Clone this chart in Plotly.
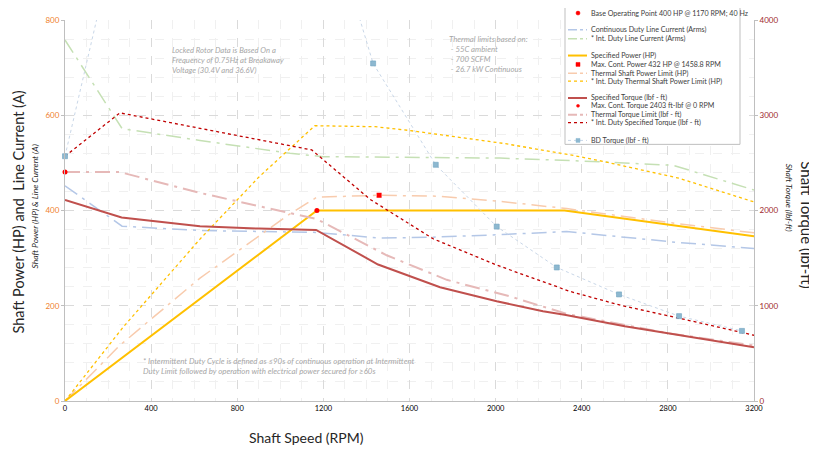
import plotly.graph_objects as go

# ---------------- data ----------------
rpm_spec_power = [0, 1170, 2320, 3200]
hp_spec_power = [0, 400, 400, 346]

rpm_thermal_power = [0, 255, 627, 1045, 1170, 1460, 1740, 2005, 2330, 2800, 3200]
hp_thermal_power = [0, 117, 258, 393, 428, 432, 430, 420, 404, 375, 353]

rpm_int_power = [0, 270, 627, 900, 1160, 1440, 1600, 2035, 2346, 2500, 2850, 3200]
hp_int_power = [0, 155, 340, 470, 578, 576, 568, 541, 517, 503, 468, 418]

rpm_spec_torque = [0, 263, 627, 900, 1166, 1454, 1742, 2005, 2220, 2320, 2600, 2900, 3200]
tq_spec_torque = [2110, 1927, 1834, 1810, 1796, 1433, 1195, 1047, 943, 905, 785, 675, 565]

rpm_thermal_torque = [0, 255, 627, 1045, 1169, 1494, 1773, 2067, 2330, 2800, 3200]
tq_thermal_torque = [2403, 2403, 2185, 1975, 1910, 1530, 1272, 1098, 915, 712, 582]

rpm_int_torque = [0, 255, 1146, 1417, 1710, 2005, 2346, 2580, 2900, 3200]
tq_int_torque = [2570, 3025, 2636, 2117, 1703, 1427, 1150, 1005, 845, 690]

rpm_cont_current = [0, 265, 627, 1045, 1169, 1463, 1710, 2005, 2330, 2820, 3200]
a_cont_current = [452, 367, 358, 356, 354, 342, 344, 349, 356, 334, 320]

rpm_int_current = [0, 265, 627, 1045, 1200, 2020, 2346, 2824, 3200]
a_int_current = [758, 572, 547, 520, 513, 510, 505, 495, 443]

rpm_bd_torque = [0, 290, 1145, 1431, 1722, 2005, 2284, 2573, 2852, 3144]
tq_bd_torque = [2570, 5400, 5700, 3544, 2480, 1831, 1402, 1119, 891, 736]

base_point_rpm = [1170]
base_point_hp = [400]
max_power_rpm = [1458.8]
max_power_hp = [432]
max_torque_rpm = [0]
max_torque_tq = [2403]

x_ticks = [0, 400, 800, 1200, 1600, 2000, 2400, 2800, 3200]
y_ticks = [0, 200, 400, 600, 800]
y2_ticks = [0, 1000, 2000, 3000, 4000]

# ---------------- styles ----------------
FONT = "Lato, 'Open Sans', sans-serif"
C_SPEC_P = "#FFC000"
C_THERM_P = "#F8CBAD"
C_INT_P = "#FFC000"
C_SPEC_T = "#C0504D"
C_THERM_T = "#E6B9B8"
C_INT_T = "#C00000"
C_CONT_A = "#B4C7E7"
C_INT_A = "#C5E0B4"
C_BD_LINE = "#C9D7E8"
C_BD_MK = "#8DB8D0"
C_RED = "#FF0000"

# page is offset by the default 8px body margin
OFF = 8
W, H = 809, 443
L, R, T, B = 57, 63, 7, 50
PW, PH = W - L - R, H - T - B


def px(x):  # page pixel -> paper
    return (x - OFF - L) / PW


def py(y):
    return (H - B - (y - OFF)) / PH


fig = go.Figure()


def line(x, y, color, width, dash, axis="y"):
    fig.add_trace(go.Scatter(x=x, y=y, mode="lines", yaxis=axis,
                             line=dict(color=color, width=width, dash=dash),
                             showlegend=False, hoverinfo="skip"))


line(rpm_cont_current, a_cont_current, C_CONT_A, 1.5, "longdashdot")
line(rpm_int_current, a_int_current, C_INT_A, 1.5, "longdashdot")
line(rpm_thermal_power, hp_thermal_power, C_THERM_P, 1.5, "longdashdot")
line(rpm_int_power, hp_int_power, C_INT_P, 1.3, "dot")
line(rpm_spec_power, hp_spec_power, C_SPEC_P, 2, "solid")
line(rpm_thermal_torque, tq_thermal_torque, C_THERM_T, 2, "longdashdot", "y2")
line(rpm_int_torque, tq_int_torque, C_INT_T, 1.3, "dot", "y2")
line(rpm_spec_torque, tq_spec_torque, C_SPEC_T, 2, "solid", "y2")

fig.add_trace(go.Scatter(x=rpm_bd_torque, y=tq_bd_torque, mode="lines+markers", yaxis="y2",
                         line=dict(color=C_BD_LINE, width=1, dash="dot"),
                         marker=dict(symbol="square", size=5, color=C_BD_MK,
                                     line=dict(color="#6FA3C0", width=0.6)),
                         cliponaxis=False, showlegend=False, hoverinfo="skip"))
fig.add_trace(go.Scatter(x=base_point_rpm, y=base_point_hp, mode="markers",
                         marker=dict(symbol="circle", size=5, color=C_RED),
                         cliponaxis=False, showlegend=False, hoverinfo="skip"))
fig.add_trace(go.Scatter(x=max_power_rpm, y=max_power_hp, mode="markers",
                         marker=dict(symbol="square", size=5, color=C_RED),
                         cliponaxis=False, showlegend=False, hoverinfo="skip"))
fig.add_trace(go.Scatter(x=max_torque_rpm, y=max_torque_tq, mode="markers", yaxis="y2",
                         marker=dict(symbol="circle", size=5, color=C_RED),
                         cliponaxis=False, showlegend=False, hoverinfo="skip"))

# ---------------- manual legend ----------------
shapes = []
annotations = []
shapes.append(dict(type="rect", xref="paper", yref="paper", x0=px(565), x1=px(740),
                   y0=py(0), y1=py(141), line=dict(color="#BFBFBF", width=1),
                   fillcolor="white", layer="above"))

legend_rows = [
    ("Base Operating Point 400 HP @ 1170 RPM; 40 Hz", 8, None, None, None, ("circle", C_RED, 4)),
    ("Continuous Duty Line Current (Arms)", 25, C_CONT_A, 1.5, "dashdot", None),
    ("* Int. Duty Line Current (Arms)", 34, C_INT_A, 1.5, "dashdot", None),
    ("Specified Power (HP)", 51, C_SPEC_P, 2, "solid", None),
    ("Max. Cont. Power 432 HP @ 1458.8 RPM", 60, None, None, None, ("rect", C_RED, 4)),
    ("Thermal Shaft Power Limit (HP)", 69, C_THERM_P, 1.5, "dashdot", None),
    ("* Int. Duty Thermal Shaft Power Limit (HP)", 77, C_INT_P, 1.2, "dot", None),
    ("Specified Torque (lbf - ft)", 94, C_SPEC_T, 2, "solid", None),
    ("Max. Cont. Torque 2403 ft-lbf @ 0 RPM", 102, None, None, None, ("circle", C_RED, 3)),
    ("Thermal Torque Limit (lbf - ft)", 111, C_THERM_T, 2, "dashdot", None),
    ("* Int. Duty Specified Torque (lbf - ft)", 119, C_INT_T, 1.2, "dot", None),
    ("BD Torque (lbf - ft)", 137, C_BD_LINE, 1, "dot", ("rect", C_BD_MK, 4)),
]
for text, yy, col, wid, dash, mk in legend_rows:
    if col is not None:
        shapes.append(dict(type="line", xref="paper", yref="paper",
                           x0=px(568), x1=px(587), y0=py(yy), y1=py(yy),
                           line=dict(color=col, width=wid, dash=dash), layer="above"))
    if mk is not None:
        kind, mcol, s = mk
        shapes.append(dict(type=kind, xref="paper", yref="paper",
                           x0=px(578 - s / 2), x1=px(578 + s / 2),
                           y0=py(yy - s / 2), y1=py(yy + s / 2),
                           fillcolor=mcol, line=dict(color=mcol, width=0.5), layer="above"))
    annotations.append(dict(text=text, xref="paper", yref="paper", x=px(589), y=py(yy),
                            xanchor="left", yanchor="middle", showarrow=False,
                            font=dict(family=FONT, size=7.1, color="#404040")))

# ---------------- notes & titles ----------------
NOTE = "#A6A6A6"
annotations += [
    dict(text="<i>Locked Rotor Data is Based On a<br>Frequency of 0.75Hz at Breakaway<br>Voltage (30.4V and 36.6V)</i>",
         xref="paper", yref="paper", x=px(170), y=py(38), xanchor="left", yanchor="top",
         align="left", showarrow=False, font=dict(family=FONT, size=7.7, color=NOTE)),
    dict(text="<i>Thermal limits based on:<br> - 55C ambient<br> - 700 SCFM<br> - 26.7 kW Continuous</i>",
         xref="paper", yref="paper", x=px(447), y=py(27), xanchor="left", yanchor="top",
         align="left", showarrow=False, font=dict(family=FONT, size=7.8, color=NOTE)),
    dict(text="<i>* Intermittent Duty Cycle is defined as ≤90s of continuous operation at Intermittent<br>Duty Limit followed by operation with electrical power secured for ≥60s</i>",
         xref="paper", yref="paper", x=px(141), y=py(353), xanchor="left", yanchor="top",
         align="left", showarrow=False, font=dict(family=FONT, size=7.9, color=NOTE)),
    dict(text="Shaft Power (HP) and  Line Current (A)", xref="paper", yref="paper",
         x=px(18), y=py(210), textangle=-90, showarrow=False, xanchor="center", yanchor="middle",
         font=dict(family=FONT, size=14.5, color="#262626")),
    dict(text="<i>Shaft Power (HP) & Line Current (A)</i>", xref="paper", yref="paper",
         x=px(35), y=py(204), textangle=-90, showarrow=False, xanchor="center", yanchor="middle",
         font=dict(family=FONT, size=8.5, color="#262626")),
    dict(text="Shaft Torque (lbf-ft)", xref="paper", yref="paper",
         x=px(807), y=py(222), textangle=90, showarrow=False, xanchor="center", yanchor="middle",
         font=dict(family=FONT, size=15, color="#262626")),
    dict(text="<i>Shaft Torque (lbf-ft)</i>", xref="paper", yref="paper",
         x=px(789), y=py(195), textangle=90, showarrow=False, xanchor="center", yanchor="middle",
         font=dict(family=FONT, size=8.5, color="#262626")),
    dict(text="Shaft Speed (RPM)", xref="paper", yref="paper",
         x=px(306), y=py(438), showarrow=False, xanchor="center", yanchor="middle",
         font=dict(family=FONT, size=14, color="#262626")),
]

fig.update_layout(
    width=W, height=H,
    margin=dict(l=L, r=R, t=T, b=B, pad=0),
    paper_bgcolor="white", plot_bgcolor="white",
    font=dict(family=FONT),
    showlegend=False,
    xaxis=dict(range=[0, 3200], tickvals=x_ticks, showgrid=True, gridcolor="#DADADA",
               griddash="dash", gridwidth=1, zeroline=False, showline=True, linecolor="#BFBFBF",
               ticks="", tickfont=dict(family=FONT, size=7.5, color="#000000"),
               minor=dict(dtick=100, showgrid=True, gridcolor="#F0F0F0", griddash="dash")),
    yaxis=dict(range=[0, 800], tickvals=y_ticks, showgrid=True, gridcolor="#DADADA",
               griddash="dash", zeroline=False, showline=True, linecolor="#BFBFBF",
               ticks="outside", ticklen=3, tickcolor="#BFBFBF",
               tickfont=dict(family=FONT, size=8, color="#F07F2E"),
               minor=dict(dtick=40, showgrid=True, gridcolor="#F0F0F0", griddash="dash")),
    yaxis2=dict(range=[0, 4000], tickvals=y2_ticks, overlaying="y", side="right",
                showgrid=False, zeroline=False, showline=True, linecolor="#BFBFBF",
                ticks="outside", ticklen=3, tickcolor="#BFBFBF",
                tickfont=dict(family=FONT, size=8, color="#A0282D")),
    shapes=shapes,
    annotations=annotations,
)

fig.write_html("out.html")
